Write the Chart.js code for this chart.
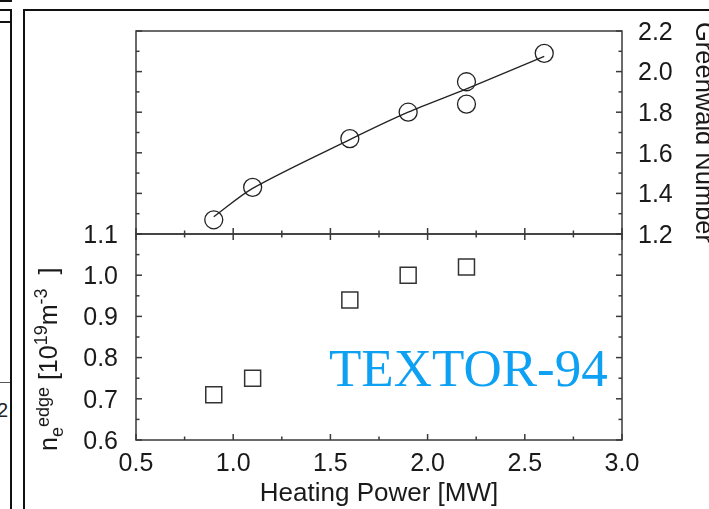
<!DOCTYPE html>
<html>
<head>
<meta charset="utf-8">
<title>TEXTOR-94 Greenwald number and edge density</title>
<script src="https://cdn.jsdelivr.net/npm/chart.js@4.4.1/dist/chart.umd.min.js"></script>
<style>
  html, body { margin: 0; padding: 0; background: #fff; }
  #page { position: relative; width: 709px; height: 509px; overflow: hidden; background: #fff; }
  #page canvas { position: absolute; left: 0; top: 0; }
  .rule { position: absolute; background: #111; }
  .stray { position: absolute; font: 20px "Liberation Sans", Arial, sans-serif; color: #222; }
</style>
</head>
<body>
<div id="page">
  <!-- page edges of the scanned figure -->
  <div class="rule" style="left:0;top:0;width:12px;height:2px"></div>
  <div class="rule" style="left:0;top:9px;width:12px;height:2px"></div>
  <div class="rule" style="left:10px;top:9px;width:2px;height:500px"></div>
  <div class="rule" style="left:0;top:21px;width:10px;height:2px"></div>
  <div class="rule" style="left:0;top:382px;width:10px;height:1px;background:#555"></div>
  <div class="stray" style="left:-3px;top:399px">2</div>
  <div class="rule" style="left:23px;top:9px;width:2px;height:500px"></div>
  <div class="rule" style="left:23px;top:9px;width:686px;height:2px"></div>

  <canvas id="topChart" width="740" height="509"></canvas>
  <canvas id="bottomChart" width="740" height="509"></canvas>
</div>

<script>
// ============================================
// DATA
// ============================================

// upper panel: Greenwald number vs heating power (circles)
const powerGw = [0.9, 1.1, 1.6, 1.9, 2.2, 2.2, 2.6];
const greenwald = [1.27, 1.43, 1.67, 1.80, 1.95, 1.84, 2.09];

// fitted curve through the circles
const fitPower = [0.9, 1.1, 1.6, 1.9, 2.2, 2.6];
const fitGreenwald = [1.285, 1.425, 1.665, 1.80, 1.915, 2.075];

// lower panel: edge density (squares)
const powerEdge = [0.9, 1.1, 1.6, 1.9, 2.2];
const edgeDensity = [0.71, 0.75, 0.94, 1.00, 1.02];

// axis ranges
const powerRange = [0.5, 3.0];
const greenwaldRange = [1.2, 2.2];
const densityRange = [0.6, 1.1];

const FONT = '"Liberation Sans", Arial, Helvetica, sans-serif';
const INK = '#1a1a1a';

// ============================================
// PLUGINS
// ============================================

// Box around the plot area with ticks pointing inward
const panelPlugin = {
    id: 'panel',
    afterDatasetsDraw(chart, args, opts) {
        const { ctx, chartArea: a } = chart;
        ctx.save();
        ctx.strokeStyle = opts.color;
        ctx.lineWidth = opts.lineWidth;
        ctx.strokeRect(a.left, a.top, a.right - a.left, a.bottom - a.top);

        opts.edges.forEach(e => {
            const scale = chart.scales[e.axis];
            const n = Math.round((scale.max - scale.min) / e.step);
            for (let i = 0; i <= n; i++) {
                const v = scale.min + i * e.step;
                const isMajor = Math.abs(v / e.major - Math.round(v / e.major)) < 1e-6;
                const len = isMajor ? opts.majorLen : opts.minorLen;
                const p = scale.getPixelForValue(v);
                ctx.beginPath();
                if (e.side === 'left') { ctx.moveTo(a.left, p); ctx.lineTo(a.left + len, p); }
                if (e.side === 'right') { ctx.moveTo(a.right, p); ctx.lineTo(a.right - len, p); }
                if (e.side === 'top') { ctx.moveTo(p, a.top); ctx.lineTo(p, a.top + len); }
                if (e.side === 'bottom') { ctx.moveTo(p, a.bottom); ctx.lineTo(p, a.bottom - len); }
                ctx.stroke();
            }
        });
        ctx.restore();
    }
};

// y-axis title with sub/superscripts, and the machine label
const labelsPlugin = {
    id: 'labels',
    afterDraw(chart) {
        const { ctx } = chart;
        const parts = [
            { text: 'n', size: 25, shift: 0 },
            { text: 'e', size: 18, shift: 6 },
            { text: 'edge', size: 18, shift: -8 },
            { text: ' [10', size: 25, shift: 0 },
            { text: '19', size: 18, shift: -10 },
            { text: 'm', size: 25, shift: 0 },
            { text: '-3', size: 18, shift: -10 },
            { text: '  ]', size: 25, shift: 0 }
        ];
        ctx.save();
        ctx.fillStyle = INK;
        ctx.textBaseline = 'alphabetic';
        ctx.translate(57, 451);
        ctx.rotate(-Math.PI / 2);
        let x = 0;
        parts.forEach(p => {
            ctx.font = `${p.size}px ${FONT}`;
            ctx.fillText(p.text, x, p.shift);
            x += ctx.measureText(p.text).width;
        });
        ctx.restore();

        ctx.save();
        ctx.fillStyle = '#0ea1f3';
        ctx.font = '53px "Liberation Serif", "Times New Roman", serif';
        ctx.textBaseline = 'alphabetic';
        ctx.fillText('TEXTOR-94', 329, 386);
        ctx.restore();
    }
};

const tickFont = { family: FONT, size: 25 };
const fmt = v => Number(v).toFixed(1);

// ============================================
// UPPER PANEL
// ============================================

new Chart(document.getElementById('topChart'), {
    type: 'scatter',
    data: {
        datasets: [
            {
                data: powerGw.map((x, i) => ({ x, y: greenwald[i] })),
                pointStyle: 'circle',
                pointRadius: 9,
                pointBorderWidth: 1.3,
                pointBorderColor: '#222',
                pointBackgroundColor: 'rgba(0,0,0,0)',
                showLine: false
            },
            {
                data: fitPower.map((x, i) => ({ x, y: fitGreenwald[i] })),
                showLine: true,
                pointRadius: 0,
                borderColor: '#222',
                borderWidth: 1.3,
                tension: 0.3
            }
        ]
    },
    options: {
        responsive: false,
        animation: false,
        layout: { padding: { left: 136, right: 0, top: 31, bottom: 275 } },
        plugins: {
            legend: { display: false },
            tooltip: { enabled: false },
            panel: {
                color: '#3a3a3a',
                lineWidth: 1.5,
                majorLen: 6,
                minorLen: 3.5,
                edges: [
                    { side: 'left', axis: 'y', step: 0.1, major: 0.2 },
                    { side: 'right', axis: 'y', step: 0.1, major: 0.2 },
                    { side: 'bottom', axis: 'x', step: 0.25, major: 0.5 }
                ]
            }
        },
        scales: {
            x: { type: 'linear', min: powerRange[0], max: powerRange[1], display: false },
            y: {
                type: 'linear',
                position: 'right',
                min: greenwaldRange[0],
                max: greenwaldRange[1],
                grid: { display: false, drawTicks: false },
                border: { display: false },
                ticks: { stepSize: 0.2, padding: 16, labelOffset: 2, color: INK, font: tickFont, callback: fmt },
                title: {
                    display: true,
                    text: 'Greenwald Number',
                    color: INK,
                    font: { family: FONT, size: 25.5 },
                    padding: { top: 22, bottom: 0 }
                },
                afterFit(scale) { scale.width = 118; }
            }
        }
    },
    plugins: [panelPlugin]
});

// ============================================
// LOWER PANEL
// ============================================

new Chart(document.getElementById('bottomChart'), {
    type: 'scatter',
    data: {
        datasets: [
            {
                data: powerEdge.map((x, i) => ({ x, y: edgeDensity[i] })),
                pointStyle: 'rect',
                pointRadius: 11.3,
                pointBorderWidth: 1.5,
                pointBorderColor: '#333',
                pointBackgroundColor: 'rgba(0,0,0,0)',
                showLine: false
            }
        ]
    },
    options: {
        responsive: false,
        animation: false,
        layout: { padding: { left: 0, right: 118, top: 234, bottom: 0 } },
        plugins: {
            legend: { display: false },
            tooltip: { enabled: false },
            panel: {
                color: '#3a3a3a',
                lineWidth: 1.5,
                majorLen: 6,
                minorLen: 3.5,
                edges: [
                    { side: 'left', axis: 'y', step: 0.05, major: 0.1 },
                    { side: 'right', axis: 'y', step: 0.05, major: 0.1 },
                    { side: 'top', axis: 'x', step: 0.25, major: 0.5 },
                    { side: 'bottom', axis: 'x', step: 0.25, major: 0.5 }
                ]
            }
        },
        scales: {
            x: {
                type: 'linear',
                position: 'bottom',
                min: powerRange[0],
                max: powerRange[1],
                grid: { display: false, drawTicks: false },
                border: { display: false },
                ticks: { stepSize: 0.5, padding: 9, color: INK, font: tickFont, callback: fmt, maxRotation: 0 },
                title: {
                    display: true,
                    text: 'Heating Power [MW]',
                    color: INK,
                    font: { family: FONT, size: 26 },
                    padding: { top: 0, bottom: 0 }
                },
                afterFit(scale) { scale.height = 69; }
            },
            y: {
                type: 'linear',
                position: 'left',
                min: densityRange[0],
                max: densityRange[1],
                grid: { display: false, drawTicks: false },
                border: { display: false },
                ticks: { stepSize: 0.1, padding: 18, labelOffset: 2, color: INK, font: tickFont, callback: fmt },
                afterFit(scale) { scale.width = 136; }
            }
        }
    },
    plugins: [panelPlugin, labelsPlugin]
});
</script>
</body>
</html>
